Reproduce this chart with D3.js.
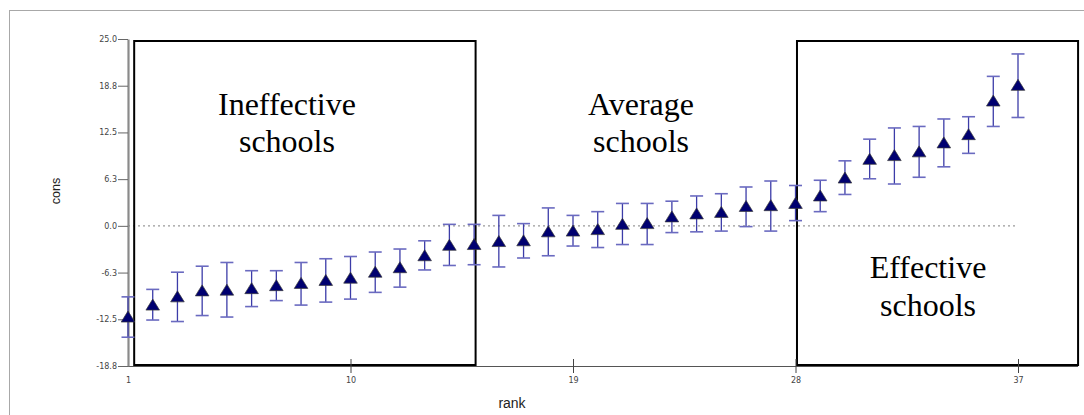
<!DOCTYPE html>
<html>
<head>
<meta charset="utf-8">
<script src="https://cdn.jsdelivr.net/npm/d3@7"></script>
<style>
  html, body { margin: 0; padding: 0; background: #fff; }
  svg { display: block; }
</style>
</head>
<body>
<svg id="chart" width="1084" height="415"></svg>
<script>
// ---- data ----
const ranks = [1,2,3,4,5,6,7,8,9,10,11,12,13,14,15,16,17,18,19,20,21,22,23,24,25,26,27,28,29,30,31,32,33,34,35,36,37];
const cons  = [-12.2,-10.6,-9.5,-8.7,-8.6,-8.4,-8.0,-7.7,-7.3,-7.0,-6.2,-5.6,-4.0,-2.6,-2.5,-2.1,-2.0,-0.8,-0.7,-0.5,0.2,0.3,1.2,1.6,1.8,2.6,2.7,3.0,4.0,6.4,8.9,9.4,9.9,11.1,12.2,16.7,18.8];
const lower = [-14.9,-12.6,-12.8,-12.0,-12.2,-10.8,-10.0,-10.6,-10.2,-9.8,-8.9,-8.2,-5.9,-5.3,-5.2,-5.5,-4.3,-4.0,-2.7,-2.9,-2.5,-2.5,-0.9,-0.8,-0.7,-0.1,-0.7,0.7,1.9,4.2,6.3,5.6,6.5,7.9,9.7,13.3,14.5];
const upper = [-9.5,-8.5,-6.2,-5.4,-4.9,-6.0,-6.0,-4.9,-4.4,-4.1,-3.5,-3.1,-2.0,0.2,0.2,1.4,0.3,2.4,1.4,1.9,3.0,3.0,3.3,4.0,4.3,5.2,6.0,5.4,6.1,8.7,11.6,13.1,13.3,14.3,14.6,20.0,23.0];
const yTicks = [-18.75,-12.5,-6.25,0,6.25,12.5,18.75,25];
const xTickLabels = [1,10,19,28,37];
const xTickMarks = [10,19,28,37];
const groupLabels = [["Ineffective","schools"],["Average","schools"],["Effective","schools"]];

// ---- layout ----
const svg = d3.select("#chart");
const x = d3.scaleLinear().domain([1,37]).range([128,1018]);
const y = d3.scaleLinear().domain([-18.75,25]).range([366,39]);
const xAxisEnd = 39.43;

// outer frame
svg.append("rect").attr("x",9.5).attr("y",10.5).attr("width",1200).attr("height",600)
  .attr("fill","none").attr("stroke","#a8a8a8").attr("stroke-width",1);

// zero reference line
svg.append("line")
  .attr("x1",x(1)).attr("x2",x(36.9))
  .attr("y1",y(0)).attr("y2",y(0))
  .attr("stroke","#9a9a9a").attr("stroke-width",1.2).attr("stroke-dasharray","2,3");

// annotation boxes
const boxes = [[1.25,15.06],[28.06,xAxisEnd]];
svg.selectAll("rect.box").data(boxes).enter().append("rect")
  .attr("class","box")
  .attr("x",d=>x(d[0])).attr("width",d=>x(d[1])-x(d[0]))
  .attr("y",y(25)+2).attr("height",(y(-18.75)-1)-(y(25)+2))
  .attr("fill","none").attr("stroke","#000").attr("stroke-width",2);

// x axis line
svg.append("line").attr("x1",x(1)).attr("x2",x(xAxisEnd))
  .attr("y1",y(-18.75)+0.5).attr("y2",y(-18.75)+0.5)
  .attr("stroke","#555").attr("stroke-width",1);
svg.selectAll("line.xtick").data(xTickMarks).enter().append("line")
  .attr("class","xtick")
  .attr("x1",d=>x(d)+0.5).attr("x2",d=>x(d)+0.5)
  .attr("y1",y(-18.75)-7).attr("y2",y(-18.75)+7)
  .attr("stroke","#444").attr("stroke-width",1);
svg.selectAll("text.xlab").data(xTickLabels).enter().append("text")
  .attr("class","xlab")
  .attr("x",d=>x(d)+0.5).attr("y",y(-18.75)+16.5)
  .attr("text-anchor","middle")
  .attr("font-family","DejaVu Sans").attr("font-size",8).attr("fill","#444")
  .text(d=>d);

// y axis
const yAxis = d3.axisLeft(y).tickValues(yTicks).tickSize(10).tickSizeOuter(0)
  .tickPadding(1).tickFormat(d=>d.toFixed(1));
const gy = svg.append("g").attr("transform",`translate(${x(1)},0)`).call(yAxis);
gy.select(".domain").attr("stroke","#8a8a8a").attr("stroke-width",2.2);
gy.selectAll(".tick line").attr("stroke","#666").attr("stroke-width",1);
gy.selectAll(".tick text").attr("font-family","DejaVu Sans").attr("font-size",8).attr("fill","#444");

// axis titles
svg.append("text").attr("x",512).attr("y",408).attr("text-anchor","middle")
  .attr("font-family","Liberation Sans, Arial").attr("font-size",14).attr("fill","#222").text("rank");
svg.append("text").attr("transform","translate(60,191) rotate(-90)").attr("text-anchor","middle")
  .attr("font-family","Liberation Sans, Arial").attr("font-size",12.5).attr("fill","#222").text("cons");

// group labels
const labelPos = [[7.43,[115,152]],[21.75,[115,152]],[33.36,[278,316]]];
groupLabels.forEach((lines,i)=>{
  const t = svg.append("text").attr("text-anchor","middle")
    .attr("font-family","Liberation Serif, Times New Roman").attr("font-size",32).attr("fill","#000");
  lines.forEach((ln,j)=>{
    t.append("tspan").attr("x",x(labelPos[i][0])).attr("y",labelPos[i][1][j]).text(ln);
  });
});

// error bars and markers
const pts = ranks.map((r,i)=>({r, v:cons[i], lo:lower[i], hi:upper[i]}));
const eb = svg.append("g").attr("stroke","#3c3ca8").attr("stroke-width",1.3);
eb.selectAll("line.v").data(pts).enter().append("line")
  .attr("x1",d=>x(d.r)).attr("x2",d=>x(d.r)).attr("y1",d=>y(d.hi)).attr("y2",d=>y(d.lo));
eb.selectAll("line.ct").data(pts).enter().append("line")
  .attr("x1",d=>x(d.r)-6.5).attr("x2",d=>x(d.r)+6.5).attr("y1",d=>y(d.hi)).attr("y2",d=>y(d.hi))
  .attr("stroke","#6a6ac0").attr("stroke-width",1.6);
eb.selectAll("line.cb").data(pts).enter().append("line")
  .attr("x1",d=>x(d.r)-6.5).attr("x2",d=>x(d.r)+6.5).attr("y1",d=>y(d.lo)).attr("y2",d=>y(d.lo))
  .attr("stroke","#6a6ac0").attr("stroke-width",1.6);

svg.append("g").selectAll("path").data(pts).enter().append("path")
  .attr("d","M0,-6L6.8,5L-6.8,5Z")
  .attr("transform",d=>`translate(${x(d.r)},${y(d.v)})`)
  .attr("fill","#000070").attr("stroke","#3a3a3a").attr("stroke-width",0.7);
</script>
</body>
</html>
